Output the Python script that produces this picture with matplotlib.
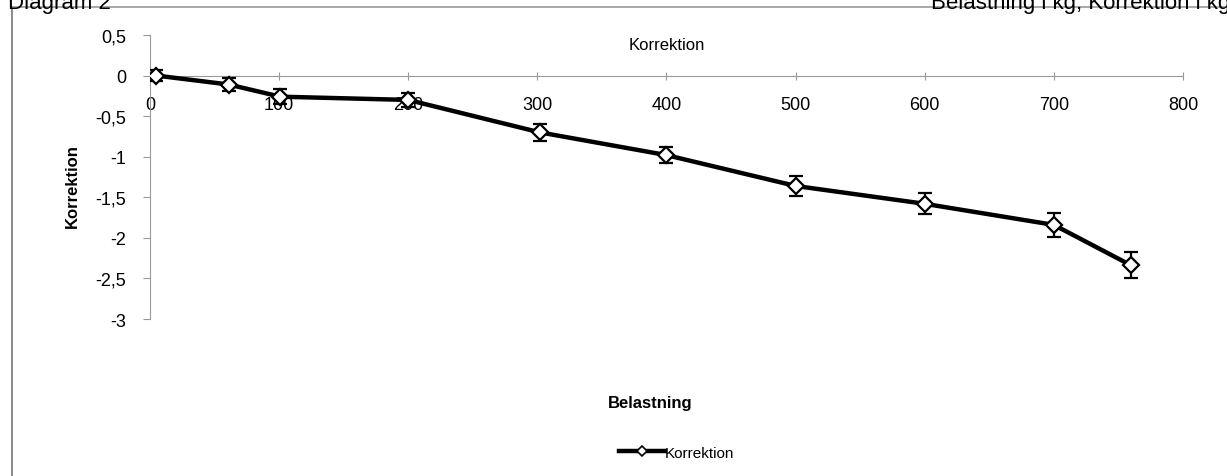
import numpy as np
import matplotlib
matplotlib.use('Agg')
import matplotlib.pyplot as plt
from matplotlib.lines import Line2D
from matplotlib.ticker import FuncFormatter

# Data
belastning = [5, 61, 101, 200, 302, 400, 500, 600, 700, 760]
korrektion = [0.0, -0.11, -0.26, -0.30, -0.70, -0.98, -1.36, -1.58, -1.84, -2.34]
fel = [0.07, 0.08, 0.09, 0.09, 0.10, 0.10, 0.12, 0.13, 0.15, 0.16]
x_ticks = [0, 100, 200, 300, 400, 500, 600, 700, 800]
y_ticks = [0.5, 0, -0.5, -1, -1.5, -2, -2.5, -3]

plt.rcParams['font.family'] = ['Liberation Sans', 'DejaVu Sans']

fig = plt.figure(figsize=(12.27, 4.77), dpi=100)
ax = fig.add_axes([0.1222, 0.3291, 0.8419, 0.5954])

ax.errorbar(belastning, korrektion, yerr=fel, color='black', lw=3.2,
            marker='D', markersize=8, markerfacecolor='white',
            markeredgecolor='black', markeredgewidth=1.6,
            ecolor='black', elinewidth=1.6, capsize=5, capthick=1.6,
            zorder=3)

ax.set_xlim(0, 800)
ax.set_ylim(-3, 0.5)
ax.set_xticks(x_ticks)
ax.set_yticks(y_ticks)
fmt = FuncFormatter(lambda v, p: ('%g' % v).replace('.', ','))
ax.yaxis.set_major_formatter(fmt)

for s in ['top', 'right']:
    ax.spines[s].set_visible(False)
ax.spines['bottom'].set_position(('data', 0))
ax.spines['left'].set_position(('data', 0))
ax.spines['bottom'].set_color('#999999')
ax.spines['left'].set_color('#999999')
ax.tick_params(axis='x', direction='inout', length=6, color='#999999',
               labelsize=13, pad=12)
ax.tick_params(axis='y', direction='out', length=5, color='#999999',
               labelsize=13, pad=12)

ax.set_title('Korrektion', fontsize=12, pad=-10, y=1.0)
fig.text(0.53, 0.145, 'Belastning', fontsize=12, fontweight='bold', ha='center')
fig.text(0.059, 0.61, 'Korrektion', fontsize=12, fontweight='bold',
         rotation=90, va='center', ha='center')

handle = Line2D([], [], color='black', lw=3.2, marker='D', markersize=5,
                markerfacecolor='white', markeredgecolor='black',
                markeredgewidth=1.2)
ax.legend([handle], ['Korrektion'], loc='center', bbox_to_anchor=(0.51, -0.47),
          frameon=False, fontsize=11, handlelength=3.0, handletextpad=0.0)

# page frame and cut-off header of the scan
fig.add_artist(Line2D([0.0098, 0.0098], [0.0, 0.983], color='#777777', lw=1.2))
fig.add_artist(Line2D([0.0098, 1.0], [0.983, 0.983], color='#999999', lw=1.2))
fig.text(1.003, 0.992, 'Belastning i kg, Korrektion i kg', fontsize=16,
         ha='right', va='center')
fig.text(0.09, 0.992, 'Diagram 2', fontsize=16, ha='right', va='center')

fig.savefig('out.png', dpi=100)
